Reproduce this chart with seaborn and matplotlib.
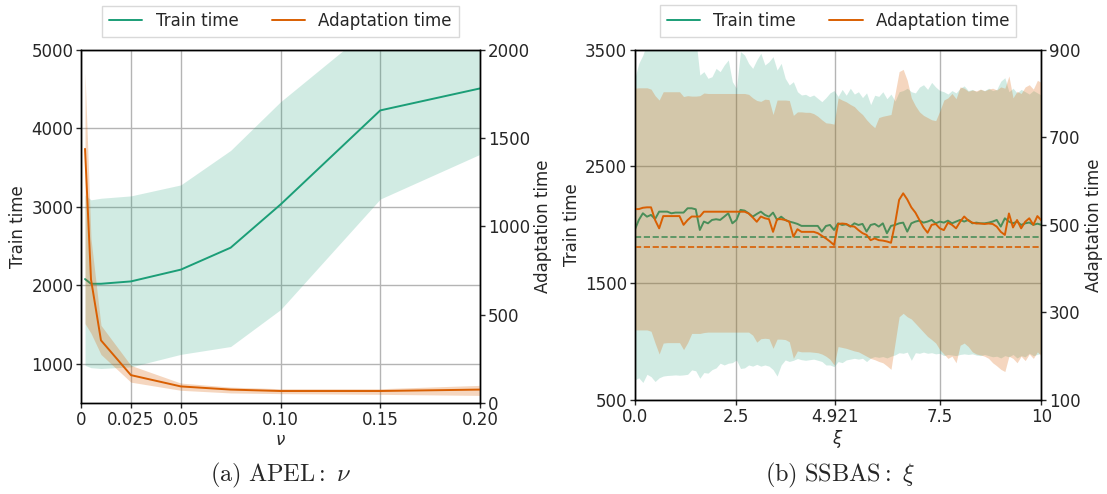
import numpy as np
import matplotlib
matplotlib.use("Agg")
import matplotlib.pyplot as plt
from matplotlib.lines import Line2D
import seaborn as sns

GREEN = "#1b9e77"
ORANGE = "#d95f02"

# ---------------- APEL: sweep over nu ----------------
nu = [0.002, 0.005, 0.01, 0.025, 0.05, 0.075, 0.1, 0.15, 0.2]
apel_train_mean = [2080, 2020, 2020, 2050, 2200, 2480, 3030, 4230, 4510]
apel_train_lo = [980, 950, 940, 960, 1120, 1220, 1690, 3100, 3670]
apel_train_hi = [3150, 3090, 3110, 3140, 3280, 3720, 4340, 5380, 5900]
apel_adapt_mean = [1440, 700, 355, 158, 94, 76, 68, 68, 76]
apel_adapt_lo = [450, 395, 275, 118, 72, 57, 53, 49, 43]
apel_adapt_hi = [1870, 930, 440, 213, 113, 90, 81, 81, 100]

# ---------------- SSBAS: sweep over xi (0.0 ... 10.0, step 0.1) ----------------
xi = np.round(np.arange(101) * 0.1, 1)
ssbas_train_mean = [
    1956, 2042, 2099, 2070, 2085, 2050, 2113, 2113, 2113, 2099,
    2105, 2105, 2105, 2142, 2142, 2133, 1956, 2028, 2013, 2042,
    2048, 2042, 2070, 2099, 2013, 2042, 2128, 2122, 2099, 2070,
    2093, 2113, 2085, 2070, 2105, 2042, 2070, 2042, 2028, 2019,
    2008, 1991, 1991, 1991, 1991, 1991, 1942, 1990, 1999, 1956,
    2013, 1999, 2005, 1985, 2013, 1999, 2008, 1942, 1999, 2008,
    1985, 2013, 1928, 1991, 1999, 2013, 2019, 1942, 2013, 2028,
    2036, 2019, 2028, 2042, 2013, 2028, 2019, 2036, 2013, 2028,
    2042, 2028, 2042, 2013, 2019, 2013, 2013, 2019, 2028, 2042,
    1985, 2056, 2028, 2013, 2028, 1999, 2013, 2020, 2000, 2010,
    2000,
]
ssbas_train_lo = [
    672, 690, 650, 720, 700, 658, 690, 705, 710, 712,
    715, 712, 715, 720, 758, 750, 686, 735, 730, 760,
    775, 815, 800, 815, 820, 843, 770, 775, 800, 790,
    805, 790, 800, 790, 760, 705, 800, 843, 830, 840,
    855, 845, 840, 845, 850, 840, 830, 800, 800, 786,
    829, 820, 843, 850, 857, 850, 857, 829, 860, 872,
    865, 872, 860, 875, 886, 905, 900, 910, 840, 905,
    900, 910, 900, 905, 895, 900, 880, 890, 885, 880,
    890, 895, 890, 895, 885, 880, 890, 880, 870, 875,
    860, 880, 870, 890, 860, 880, 870, 900, 880, 890,
    900,
]
ssbas_train_hi = [
    3255, 3383, 3454, 3560, 3620, 3700, 3680, 3650, 3700, 3640,
    3660, 3700, 3620, 3680, 3650, 3600, 3283, 3312, 3255, 3269,
    3340, 3312, 3369, 3412, 3226, 3169, 3483, 3454, 3383, 3340,
    3412, 3469, 3369, 3397, 3440, 3326, 3383, 3255, 3198, 3226,
    3140, 3112, 3118, 3098, 3112, 3083, 3055, 3089, 3130, 3150,
    3100, 3160, 3110, 3170, 3120, 3140, 3090, 3130, 3030, 3110,
    3100, 3140, 3080, 3120, 3060, 3140, 3150, 3170, 3140, 3130,
    3180, 3200, 3160, 3220, 3180, 3150, 3140, 3120, 3150, 3130,
    3170, 3190, 3150, 3160, 3140, 3160, 3150, 3170, 3150, 3160,
    3230, 3260, 3140, 3170, 3130, 3160, 3140, 3120, 3150, 3130,
    3110,
]
ssbas_adapt_mean = [
    536, 536, 539, 540, 540, 511, 492, 520, 520, 520,
    520, 520, 500, 511, 519, 519, 519, 530, 530, 530,
    530, 530, 530, 530, 530, 530, 530, 530, 526, 517,
    507, 519, 515, 513, 484, 513, 513, 511, 507, 473,
    490, 484, 484, 484, 484, 481, 475, 469, 462, 454,
    502, 503, 502, 497, 496, 488, 481, 477, 465, 469,
    465, 464, 462, 459, 503, 557, 572, 558, 540, 528,
    511, 494, 482, 500, 502, 492, 488, 505, 500, 492,
    507, 519, 510, 505, 503, 503, 502, 503, 502, 496,
    484, 477, 526, 494, 511, 492, 507, 515, 500, 520,
    510,
]
ssbas_adapt_lo = [
    260, 260, 260, 260, 257, 230, 205, 230, 231, 231,
    231, 231, 215, 231, 252, 252, 252, 254, 255, 255,
    255, 255, 255, 255, 255, 255, 255, 255, 255, 248,
    232, 240, 241, 240, 218, 239, 239, 238, 233, 195,
    212, 210, 210, 210, 209, 208, 205, 200, 193, 180,
    222, 220, 218, 215, 212, 210, 205, 200, 195, 192,
    188, 185, 178, 170, 230, 290, 298, 290, 285, 275,
    265, 255, 245, 238, 230, 215, 205, 195, 200, 185,
    225, 230, 222, 210, 205, 203, 200, 195, 185, 178,
    170, 165, 200, 195, 185, 200, 190, 205, 195, 210,
    200,
]
ssbas_adapt_hi = [
    812, 813, 813, 813, 810, 795, 785, 804, 804, 804,
    804, 804, 793, 795, 794, 794, 795, 801, 800, 800,
    800, 800, 800, 800, 800, 800, 800, 800, 798, 790,
    784, 782, 787, 786, 752, 785, 785, 785, 784, 750,
    758, 758, 757, 757, 754, 748, 740, 733, 732, 730,
    790, 785, 781, 775, 770, 760, 752, 740, 730, 722,
    745, 748, 750, 752, 800, 850, 855, 830, 790, 772,
    758, 750, 745, 740, 738, 760, 785, 790, 800, 788,
    815, 812, 805, 808, 806, 810, 806, 810, 812, 808,
    815, 812, 840, 790, 805, 800, 815, 820, 810, 830,
    825,
]
ssbas_train_ref = 1900
ssbas_adapt_ref = 450

FS = 12

sns.set_style("ticks")
plt.rcParams["font.family"] = ["DejaVu Sans"]
plt.rcParams["font.size"] = FS

fig = plt.figure(figsize=(11.07, 4.94), dpi=100)
ax_a = fig.add_axes([0.0732, 0.1842, 0.3604, 0.7146])
ax_b = fig.add_axes([0.5734, 0.1903, 0.3674, 0.7091])


def draw_panel(ax, x, tm, tlo, thi, am, alo, ahi):
    ax.set_axisbelow(True)
    ax.grid(True, color="#b4b4b4", lw=1.0)
    ax.fill_between(x, tlo, thi, color=GREEN, alpha=0.2, lw=0)
    sns.lineplot(x=x, y=tm, ax=ax, color=GREEN, lw=1.4, errorbar=None)
    tw = ax.twinx()
    tw.fill_between(x, alo, ahi, color=ORANGE, alpha=0.25, lw=0)
    sns.lineplot(x=x, y=am, ax=tw, color=ORANGE, lw=1.4, errorbar=None)
    ax.set_ylabel("Train time", fontsize=FS, labelpad=3)
    tw.set_ylabel("Adaptation time", fontsize=FS, labelpad=3)
    for a in (ax, tw):
        a.tick_params(labelsize=FS, length=3.5, width=1, pad=2)
        for s in a.spines.values():
            s.set_color("black")
            s.set_linewidth(1.0)
    handles = [Line2D([], [], color=GREEN, lw=1.4),
               Line2D([], [], color=ORANGE, lw=1.4)]
    tw.legend(handles, ["Train time", "Adaptation time"], loc="lower center",
              bbox_to_anchor=(0.5, 1.037), ncol=2, fontsize=FS,
              frameon=True, fancybox=False, edgecolor="#d0d0d0",
              borderaxespad=0.0)
    return tw


tw_a = draw_panel(ax_a, nu, apel_train_mean, apel_train_lo, apel_train_hi,
                  apel_adapt_mean, apel_adapt_lo, apel_adapt_hi)
ax_a.set_xlim(0, 0.2)
ax_a.set_ylim(500, 5000)
ax_a.set_yticks([1000, 2000, 3000, 4000, 5000])
ax_a.set_xticks([0, 0.025, 0.05, 0.1, 0.15, 0.2],
                ["0", "0.025", "0.05", "0.10", "0.15", "0.20"])
tw_a.set_ylim(0, 2000)
tw_a.set_yticks([0, 500, 1000, 1500, 2000])
ax_a.set_xlabel(r"$\nu$", fontsize=FS, labelpad=2)

tw_b = draw_panel(ax_b, xi, ssbas_train_mean, ssbas_train_lo, ssbas_train_hi,
                  ssbas_adapt_mean, ssbas_adapt_lo, ssbas_adapt_hi)
ax_b.axhline(ssbas_train_ref, color=GREEN, ls="--", lw=1.2, zorder=2.5)
tw_b.axhline(ssbas_adapt_ref, color=ORANGE, ls="--", lw=1.2)
ax_b.set_xlim(0, 10)
ax_b.set_ylim(500, 3500)
ax_b.set_yticks([500, 1500, 2500, 3500])
ax_b.set_xticks([0, 2.5, 4.921, 7.5, 10], ["0.0", "2.5", "4.921", "7.5", "10"])
tw_b.set_ylim(100, 900)
tw_b.set_yticks([100, 300, 500, 700, 900])
ax_b.set_xlabel(r"$\xi$", fontsize=FS, labelpad=2)

fig.text(0.254, 0.038, r"$\mathrm{(a)\ APEL:}\ \nu$", ha="center", va="center",
         fontsize=17.5, math_fontfamily="cm")
fig.text(0.759, 0.038, r"$\mathrm{(b)\ SSBAS:}\ \xi$", ha="center", va="center",
         fontsize=17.5, math_fontfamily="cm")

fig.savefig("out.png", dpi=100)
